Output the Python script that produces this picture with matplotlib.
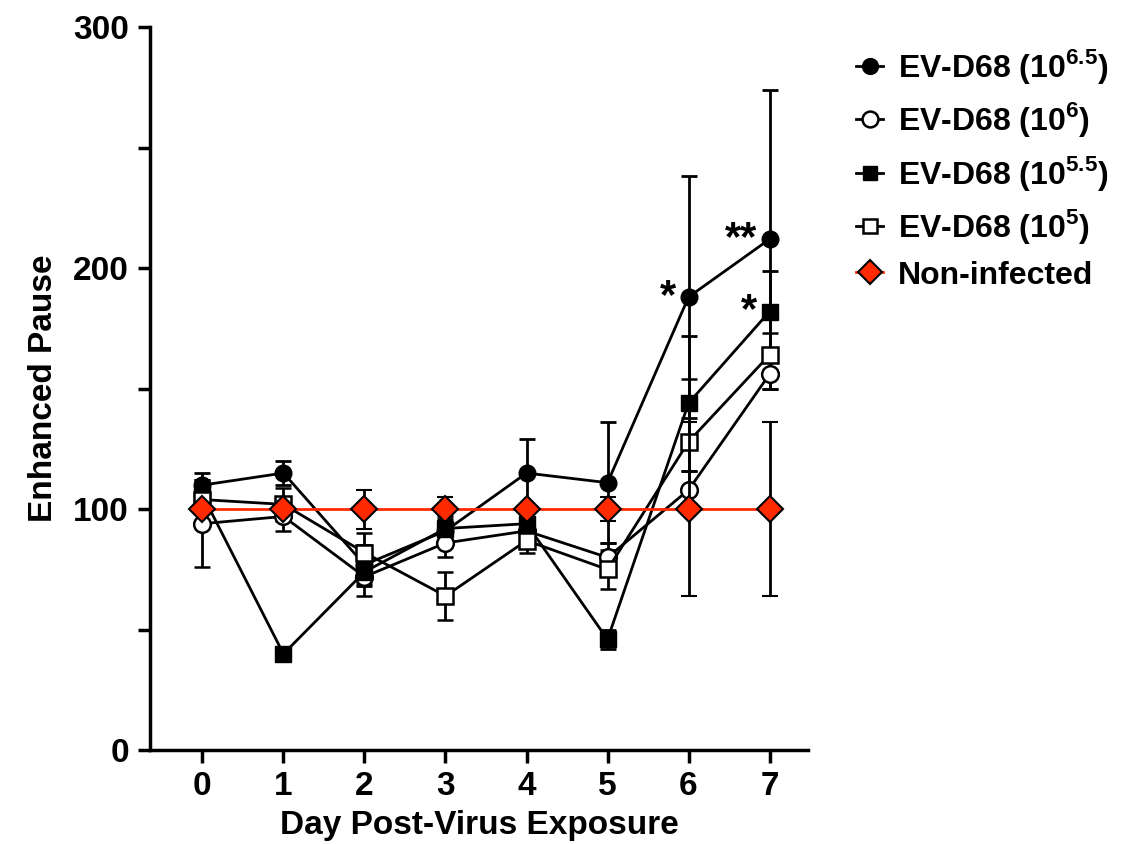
import numpy as np
import matplotlib
matplotlib.use("Agg")
import matplotlib.pyplot as plt
from matplotlib.ticker import MultipleLocator

plt.rcParams['font.family'] = ['Liberation Sans', 'DejaVu Sans']
plt.rcParams['font.weight'] = 'bold'
plt.rcParams['mathtext.fontset'] = 'custom'
plt.rcParams['mathtext.rm'] = 'Liberation Sans:bold'
plt.rcParams['mathtext.bf'] = 'Liberation Sans:bold'

days = [0, 1, 2, 3, 4, 5, 6, 7]

# mean and error (SEM) per group
ev65 = [110, 115, 77, 91, 115, 111, 188, 212]
ev65_err = [5, 5, 8, 5, 14, 25, 50, 62]
ev6 = [94, 97, 72, 86, 91, 80, 108, 156]
ev6_err = [18, 6, 8, 6, 5, 6, 8, 6]
ev55 = [106, 40, 74, 92, 94, 46, 144, 182]
ev55_err = [6, 2, 6, 5, 5, 4, 28, 17]
ev5 = [104, 102, 82, 64, 87, 75, 128, 164]
ev5_err = [5, 7, 8, 10, 5, 8, 26, 9]
ctrl = [100, 100, 100, 100, 100, 100, 100, 100]
ctrl_err = [0, 0, 8, 5, 0, 5, 36, 36]

labels = [r'EV-D68 (10$^{6.5}$)', r'EV-D68 (10$^{6}$)',
          r'EV-D68 (10$^{5.5}$)', r'EV-D68 (10$^{5}$)', 'Non-infected']

fig = plt.figure(figsize=(11.26, 8.44), dpi=100)
ax = fig.add_axes([0.133, 0.111, 0.585, 0.857])

kw = dict(color='black', lw=2, capsize=6, capthick=2, elinewidth=2)
c1 = ax.errorbar(days, ev65, yerr=ev65_err, marker='o', ms=12, mfc='black', mec='black', **kw)
c2 = ax.errorbar(days, ev6, yerr=ev6_err, marker='o', ms=12, mfc='white', mec='black', mew=1.8, **kw)
c3 = ax.errorbar(days, ev55, yerr=ev55_err, marker='s', ms=11, mfc='black', mec='black', **kw)
c4 = ax.errorbar(days, ev5, yerr=ev5_err, marker='s', ms=11, mfc='white', mec='black', mew=1.8, **kw)
c5 = ax.errorbar(days, ctrl, yerr=ctrl_err, marker='D', ms=13, mfc='#ff2a00', mec='black', mew=1.5,
                 color='#ff2a00', lw=2, ecolor='black', elinewidth=2, capsize=6, capthick=2,
                 zorder=5)

# significance marks
ax.text(5.85, 188, '*', fontsize=30, ha='right', va='center')
ax.text(6.85, 212, '**', fontsize=30, ha='right', va='center')
ax.text(6.85, 182, '*', fontsize=30, ha='right', va='center')

ax.set_xlim(-0.65, 7.48)
ax.set_ylim(0, 300)
ax.set_xticks(days)
ax.yaxis.set_major_locator(MultipleLocator(100))
ax.yaxis.set_minor_locator(MultipleLocator(50))
ax.spines['top'].set_visible(False)
ax.spines['right'].set_visible(False)
for s in ['left', 'bottom']:
    ax.spines[s].set_linewidth(2.5)
ax.tick_params(axis='both', which='major', width=2.5, length=9, labelsize=24, pad=6)
ax.tick_params(axis='y', which='minor', width=2.5, length=9)
ax.set_xlabel('Day Post-Virus Exposure', fontsize=24, fontweight='bold', labelpad=6)
ax.set_ylabel('Enhanced Pause', fontsize=24, fontweight='bold', labelpad=10)

handles = [c[0] for c in (c1, c2, c3, c4, c5)]
ax.legend(handles, labels, loc='upper left', bbox_to_anchor=(1.053, 0.99), frameon=False,
          fontsize=23, handlelength=0.85, handletextpad=0.45, labelspacing=0.45,
          borderaxespad=0, markerscale=0.95)

fig.savefig('out.png', dpi=100)
